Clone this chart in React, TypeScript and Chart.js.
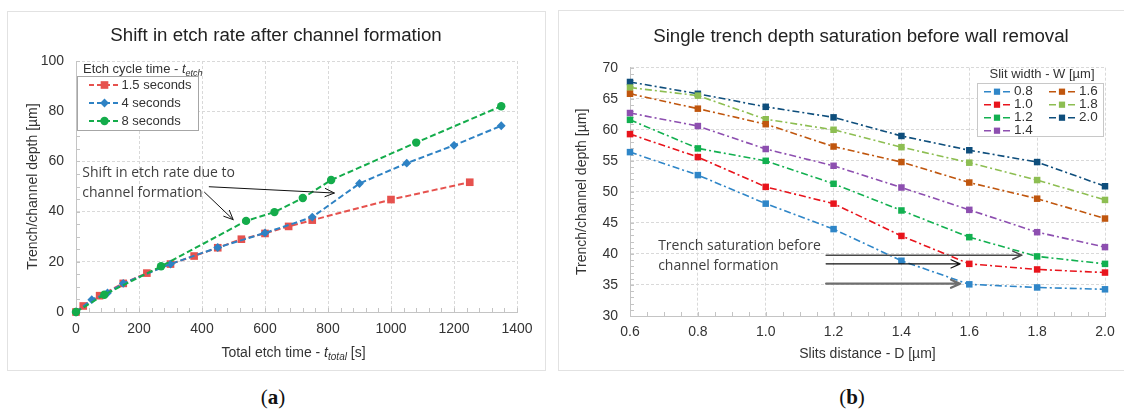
import React, { useEffect, useRef } from "react";
import { Chart, registerables } from "chart.js";

Chart.register(...registerables);

const SANS = "'Liberation Sans', Arial, sans-serif";
const NOTE = "'Open Sans', 'Noto Sans', sans-serif";
const SERIF = "'Liberation Serif', 'DejaVu Serif', serif";

// ---------------- Panel (a) data ----------------
const etchTime15 = [0, 23, 75, 150, 225, 300, 375, 450, 525, 600, 675, 750, 1000, 1250];
const depth15 = [0, 2.4, 6.5, 11.4, 15.5, 19.1, 22.3, 25.6, 29.0, 31.3, 34.1, 36.6, 44.8, 51.7];
const etchTime4 = [0, 50, 100, 150, 300, 450, 600, 750, 900, 1050, 1200, 1350];
const depth4 = [0, 4.9, 7.6, 11.4, 19.1, 25.7, 31.5, 37.8, 51.2, 59.3, 66.4, 74.2];
const etchTime8 = [0, 90, 270, 540, 630, 720, 810, 1080, 1350];
const depth8 = [0, 6.9, 18.2, 36.3, 39.8, 45.4, 52.6, 67.5, 82.0];
const seriesLabelsA = ["1.5 seconds", "4 seconds", "8 seconds"];
const xTicksA = [0, 200, 400, 600, 800, 1000, 1200, 1400];
const yTicksA = [0, 20, 40, 60, 80, 100];

// annotation anchors for panel (a), in data units
const noteTextA = [
  { x: 20, y: 55.4, t: "Shift in etch rate due to" },
  { x: 20, y: 47.5, t: "channel formation" },
];
const noteArrowA = [
  { x1: 423, y1: 49.9, x2: 820, y2: 47.4, c: "#111", w: 1 },
  { x1: 408, y1: 47.7, x2: 499, y2: 36.8, c: "#111", w: 1 },
];

// ---------------- Panel (b) data ----------------
const slitDistance = [0.6, 0.8, 1.0, 1.2, 1.4, 1.6, 1.8, 2.0];
const depthW08 = [56.4, 52.7, 48.1, 44.0, 38.9, 35.1, 34.6, 34.3];
const depthW10 = [59.3, 55.6, 50.8, 48.1, 42.9, 38.4, 37.5, 37.0];
const depthW12 = [61.6, 57.0, 55.0, 51.3, 47.0, 42.7, 39.6, 38.4];
const depthW14 = [62.7, 60.6, 56.9, 54.2, 50.7, 47.1, 43.5, 41.1];
const depthW16 = [65.8, 63.4, 60.9, 57.3, 54.8, 51.5, 48.9, 45.7];
const depthW18 = [66.8, 65.5, 61.7, 60.0, 57.2, 54.7, 51.9, 48.7];
const depthW20 = [67.7, 65.8, 63.7, 62.0, 59.0, 56.7, 54.8, 50.9];
const slitWidthLabels = ["0.8", "1.0", "1.2", "1.4", "1.6", "1.8", "2.0"];
const xTicksB = [0.6, 0.8, 1.0, 1.2, 1.4, 1.6, 1.8, 2.0];
const yTicksB = [30, 35, 40, 45, 50, 55, 60, 65, 70];

const noteTextB = [
  { x: 0.683, y: 41.3, t: "Trench saturation before" },
  { x: 0.683, y: 38.1, t: "channel formation" },
];
const noteArrowB = [
  { x1: 1.178, y1: 39.8, x2: 1.755, y2: 39.8, c: "#4a4a4a", w: 1.5 },
  { x1: 1.178, y1: 38.4, x2: 1.573, y2: 38.4, c: "#111", w: 1.2 },
  { x1: 1.178, y1: 35.2, x2: 1.573, y2: 35.2, c: "#6e6e6e", w: 2.2 },
];

const TITLE_A = "Shift in etch rate after channel formation";
const TITLE_B = "Single trench depth saturation before wall removal";

// ---------------- styles ----------------
const GRID = "#d9d9d9";
const AXIS = "#c4c4c4";
const TICK = "#333333";
const TITLE = "#222222";
const COLORS_A = ["#E6524E", "#2E82C4", "#14AC4B"];
const STYLES_A = ["rect", "rectRot", "circle"];
const RADII_A = [5.4, 4.4, 4.2];
const COLORS_B = ["#2F86C8", "#E8141C", "#12B050", "#8D4FB0", "#C0560E", "#8DBE52", "#0E4E7C"];

type Seg = { t: string; it?: boolean; sub?: boolean };

function drawRich(ctx: any, segs: Seg[], x: number, y: number, size: number, align: string, color: string) {
  const fontOf = (s: Seg) => `${s.it ? "italic " : ""}${s.sub ? Math.round(size * 0.72) : size}px ${SANS}`;
  let total = 0;
  for (const s of segs) {
    ctx.font = fontOf(s);
    total += ctx.measureText(s.t).width;
  }
  let cx = align === "center" ? x - total / 2 : x;
  ctx.save();
  ctx.fillStyle = color;
  ctx.textAlign = "left";
  ctx.textBaseline = "middle";
  for (const s of segs) {
    ctx.font = fontOf(s);
    ctx.fillText(s.t, cx, s.sub ? y + size * 0.32 : y);
    cx += ctx.measureText(s.t).width;
  }
  ctx.restore();
}

function marker(ctx: any, style: string, x: number, y: number, r: number, color: string) {
  ctx.save();
  ctx.fillStyle = color;
  ctx.beginPath();
  if (style === "circle") ctx.arc(x, y, r, 0, Math.PI * 2);
  else if (style === "rectRot") {
    ctx.moveTo(x, y - r);
    ctx.lineTo(x + r, y);
    ctx.lineTo(x, y + r);
    ctx.lineTo(x - r, y);
    ctx.closePath();
  } else {
    const s = r * Math.SQRT1_2;
    ctx.rect(x - s, y - s, 2 * s, 2 * s);
  }
  ctx.fill();
  ctx.restore();
}

function arrow(ctx: any, x1: number, y1: number, x2: number, y2: number, color: string, width: number) {
  const ang = Math.atan2(y2 - y1, x2 - x1);
  const h = 10;
  const sp = 0.42;
  ctx.save();
  ctx.strokeStyle = color;
  ctx.lineWidth = width;
  ctx.lineCap = "round";
  ctx.lineJoin = "round";
  ctx.setLineDash([]);
  ctx.beginPath();
  ctx.moveTo(x1, y1);
  ctx.lineTo(x2, y2);
  ctx.moveTo(x2 - h * Math.cos(ang - sp), y2 - h * Math.sin(ang - sp));
  ctx.lineTo(x2, y2);
  ctx.lineTo(x2 - h * Math.cos(ang + sp), y2 - h * Math.sin(ang + sp));
  ctx.stroke();
  ctx.restore();
}

function titlePlugin(text: string, cx: number, cy: number) {
  return {
    id: "panelTitle",
    afterDraw(chart: any) {
      const { ctx } = chart;
      ctx.save();
      ctx.fillStyle = TITLE;
      ctx.font = `18.7px ${SANS}`;
      ctx.textAlign = "center";
      ctx.textBaseline = "middle";
      ctx.fillText(text, cx, cy);
      ctx.restore();
    },
  };
}

function minorTicksPlugin(stepX: number, stepY: number) {
  return {
    id: "minorTicks",
    beforeDatasetsDraw(chart: any) {
      const { ctx, chartArea: a, scales } = chart;
      const xs = scales.x;
      const ys = scales.y;
      const len = 4;
      ctx.save();
      ctx.strokeStyle = AXIS;
      ctx.lineWidth = 1;
      ctx.beginPath();
      const nx = Math.round((xs.max - xs.min) / stepX);
      for (let i = 0; i <= nx; i++) {
        const px = Math.round(xs.getPixelForValue(xs.min + i * stepX)) + 0.5;
        ctx.moveTo(px, a.bottom);
        ctx.lineTo(px, a.bottom - len);
      }
      const ny = Math.round((ys.max - ys.min) / stepY);
      for (let i = 0; i <= ny; i++) {
        const py = Math.round(ys.getPixelForValue(ys.min + i * stepY)) + 0.5;
        ctx.moveTo(a.left, py);
        ctx.lineTo(a.left + len, py);
      }
      ctx.stroke();
      ctx.restore();
    },
  };
}

function notesPlugin(texts: any[], arrows: any[]) {
  return {
    id: "notes",
    afterDatasetsDraw(chart: any) {
      const { ctx, scales } = chart;
      const xs = scales.x;
      const ys = scales.y;
      ctx.save();
      ctx.fillStyle = "#404040";
      ctx.font = `14px ${NOTE}`;
      ctx.textAlign = "left";
      ctx.textBaseline = "middle";
      for (const t of texts) ctx.fillText(t.t, xs.getPixelForValue(t.x), ys.getPixelForValue(t.y));
      ctx.restore();
      for (const ar of arrows) {
        arrow(ctx, xs.getPixelForValue(ar.x1), ys.getPixelForValue(ar.y1), xs.getPixelForValue(ar.x2), ys.getPixelForValue(ar.y2), ar.c, ar.w);
      }
    },
  };
}

const legendAPlugin = {
  id: "legendA",
  afterDatasetsDraw(chart: any) {
    const { ctx, chartArea: a } = chart;
    const bx = a.left + 1;
    const by = a.top + 15;
    const bw = 121;
    const bh = 54;
    ctx.save();
    ctx.fillStyle = "#fff";
    ctx.fillRect(a.left + 1, a.top + 1, bw, by + bh - a.top - 1);
    ctx.strokeStyle = "#a6a6a6";
    ctx.lineWidth = 1;
    ctx.strokeRect(Math.round(bx) + 0.5, Math.round(by) + 0.5, bw, bh);
    ctx.restore();
    drawRich(ctx, [{ t: "Etch cycle time - " }, { t: "t", it: true }, { t: "etch", it: true, sub: true }], bx + 6, a.top + 8.5, 13, "left", TICK);
    chart.data.datasets.forEach((ds: any, i: number) => {
      const y = by + 9 + i * 18;
      ctx.save();
      ctx.strokeStyle = ds.borderColor;
      ctx.lineWidth = 2;
      ctx.setLineDash([5, 3]);
      ctx.beginPath();
      ctx.moveTo(bx + 12, y);
      ctx.lineTo(bx + 43, y);
      ctx.stroke();
      ctx.restore();
      marker(ctx, STYLES_A[i], bx + 27.5, y, RADII_A[i], ds.borderColor);
      ctx.save();
      ctx.fillStyle = TICK;
      ctx.font = `13px ${SANS}`;
      ctx.textAlign = "left";
      ctx.textBaseline = "middle";
      ctx.fillText(ds.label, bx + 44.5, y);
      ctx.restore();
    });
  },
};

const xTitleAPlugin = {
  id: "xTitleA",
  afterDraw(chart: any) {
    const { ctx, chartArea: a, scales } = chart;
    drawRich(
      ctx,
      [{ t: "Total etch time - " }, { t: "t", it: true }, { t: "total", it: true, sub: true }, { t: " [s]" }],
      (a.left + a.right) / 2 - 3,
      scales.x.bottom - 17,
      14,
      "center",
      TICK
    );
  },
};

const legendBPlugin = {
  id: "legendB",
  afterDatasetsDraw(chart: any) {
    const { ctx, chartArea: a } = chart;
    const bw = 126;
    const bh = 53;
    const bx = a.right - 2 - bw;
    const by = a.top + 15.3;
    ctx.save();
    ctx.fillStyle = "#fff";
    ctx.fillRect(bx, a.top + 1, bw + 1, by + bh - a.top - 1);
    ctx.strokeStyle = "#c8c8c8";
    ctx.lineWidth = 1;
    ctx.strokeRect(Math.round(bx) + 0.5, Math.round(by) + 0.5, bw, bh);
    ctx.fillStyle = TICK;
    ctx.font = `13px ${SANS}`;
    ctx.textAlign = "center";
    ctx.textBaseline = "middle";
    ctx.fillText("Slit width - W [\u00b5m]", bx + bw / 2 + 2, a.top + 6.5);
    ctx.restore();
    chart.data.datasets.forEach((ds: any, i: number) => {
      const col = i < 4 ? 0 : 1;
      const row = i < 4 ? i : i - 4;
      const y = by + 8.7 + row * 13;
      const ox = bx + (col === 0 ? 7 : 72);
      ctx.save();
      ctx.strokeStyle = ds.borderColor;
      ctx.lineWidth = 1.6;
      ctx.beginPath();
      ctx.moveTo(ox, y);
      ctx.lineTo(ox + 7, y);
      ctx.moveTo(ox + 19, y);
      ctx.lineTo(ox + 26, y);
      ctx.stroke();
      ctx.restore();
      marker(ctx, "rect", ox + 13, y, 4.4, ds.borderColor);
      ctx.save();
      ctx.fillStyle = TICK;
      ctx.font = `13.5px ${SANS}`;
      ctx.textAlign = "left";
      ctx.textBaseline = "middle";
      ctx.fillText(ds.label, ox + 30, y);
      ctx.restore();
    });
  },
};

function makeConfigA(): any {
  const sets = [
    [etchTime15, depth15],
    [etchTime4, depth4],
    [etchTime8, depth8],
  ];
  return {
    type: "line",
    data: {
      datasets: sets.map(([xs, ys], i) => ({
        label: seriesLabelsA[i],
        data: xs.map((x, j) => ({ x, y: ys[j] })),
        borderColor: COLORS_A[i],
        backgroundColor: COLORS_A[i],
        pointBackgroundColor: COLORS_A[i],
        pointBorderColor: COLORS_A[i],
        pointBorderWidth: 0,
        pointStyle: STYLES_A[i],
        pointRadius: RADII_A[i],
        borderWidth: 2,
        borderDash: [6, 3],
        tension: 0,
        clip: false,
        order: 2 - i,
      })),
    },
    options: {
      responsive: false,
      animation: false,
      events: [],
      layout: { padding: { left: 0, right: 27, top: 49, bottom: 0 } },
      plugins: {
        legend: { display: false },
        tooltip: { enabled: false },
        title: { display: false },
      },
      scales: {
        x: {
          type: "linear",
          min: 0,
          max: 1400,
          afterBuildTicks: (s: any) => {
            s.ticks = xTicksA.map((v) => ({ value: v }));
          },
          afterFit: (s: any) => {
            s.height = 58;
          },
          ticks: { color: TICK, font: { size: 14, family: SANS }, padding: 9, maxRotation: 0, autoSkip: false, callback: (v: any) => String(v) },
          grid: { color: GRID, drawTicks: false },
          border: { color: AXIS, dash: [3, 2] },
        },
        y: {
          type: "linear",
          min: 0,
          max: 100,
          afterBuildTicks: (s: any) => {
            s.ticks = yTicksA.map((v) => ({ value: v }));
          },
          afterFit: (s: any) => {
            s.width = 68;
          },
          ticks: { color: TICK, font: { size: 14, family: SANS }, padding: 12, autoSkip: false, callback: (v: any) => String(v) },
          grid: { color: GRID, drawTicks: false },
          border: { color: AXIS, dash: [3, 2] },
          title: {
            display: true,
            text: "Trench/channel depth [\u00b5m]",
            color: TICK,
            font: { size: 14, family: SANS },
            padding: { top: 16.6, bottom: 0 },
          },
        },
      },
    },
    plugins: [minorTicksPlugin(40, 5), notesPlugin(noteTextA, noteArrowA), legendAPlugin, xTitleAPlugin, titlePlugin(TITLE_A, 268, 23.5)],
  };
}

function makeConfigB(): any {
  const series = [depthW08, depthW10, depthW12, depthW14, depthW16, depthW18, depthW20];
  return {
    type: "line",
    data: {
      datasets: series.map((ys, i) => ({
        label: slitWidthLabels[i],
        data: slitDistance.map((x, j) => ({ x, y: ys[j] })),
        borderColor: COLORS_B[i],
        backgroundColor: COLORS_B[i],
        pointBackgroundColor: COLORS_B[i],
        pointBorderColor: COLORS_B[i],
        pointBorderWidth: 0,
        pointStyle: "rect",
        pointRadius: 4.6,
        borderWidth: 1.6,
        borderDash: [7, 3, 2, 3],
        tension: 0,
        clip: false,
      })),
    },
    options: {
      responsive: false,
      animation: false,
      events: [],
      layout: { padding: { left: 0, right: 19, top: 55.7, bottom: 0 } },
      plugins: {
        legend: { display: false },
        tooltip: { enabled: false },
        title: { display: false },
      },
      scales: {
        x: {
          type: "linear",
          min: 0.6,
          max: 2.0,
          afterBuildTicks: (s: any) => {
            s.ticks = xTicksB.map((v) => ({ value: v }));
          },
          afterFit: (s: any) => {
            s.height = 54;
          },
          ticks: { color: TICK, font: { size: 14, family: SANS }, padding: 8, maxRotation: 0, autoSkip: false, callback: (v: any) => Number(v).toFixed(1) },
          grid: { color: GRID, drawTicks: false },
          border: { color: AXIS, dash: [3, 2] },
          title: {
            display: true,
            text: "Slits distance - D [\u00b5m]",
            color: TICK,
            font: { size: 14, family: SANS },
            padding: { top: 0, bottom: 7.6 },
          },
        },
        y: {
          type: "linear",
          min: 30,
          max: 70,
          afterBuildTicks: (s: any) => {
            s.ticks = yTicksB.map((v) => ({ value: v }));
          },
          afterFit: (s: any) => {
            s.width = 71;
          },
          ticks: { color: TICK, font: { size: 14, family: SANS }, padding: 12, autoSkip: false, callback: (v: any) => String(v) },
          grid: { color: GRID, drawTicks: false },
          border: { color: AXIS, dash: [3, 2] },
          title: {
            display: true,
            text: "Trench/channel depth [\u00b5m]",
            color: TICK,
            font: { size: 14, family: SANS },
            padding: { top: 14.3, bottom: 0 },
          },
        },
      },
    },
    plugins: [minorTicksPlugin(0.05, 1), notesPlugin(noteTextB, noteArrowB), legendBPlugin, titlePlugin(TITLE_B, 302, 25)],
  };
}

function ChartBox({ make, width, height }: { make: () => any; width: number; height: number }) {
  const ref = useRef<HTMLCanvasElement>(null);
  useEffect(() => {
    const chart = new Chart(ref.current as HTMLCanvasElement, make());
    return () => chart.destroy();
  }, []);
  return <canvas ref={ref} width={width} height={height} style={{ width, height, display: "block" }} />;
}

function Caption({ letter, cx }: { letter: string; cx: number }) {
  return (
    <div
      style={{
        position: "absolute",
        left: cx - 40,
        width: 80,
        top: 384,
        textAlign: "center",
        fontFamily: SERIF,
        fontSize: 21,
        lineHeight: "26px",
        color: "#111",
      }}
    >
      (<b>{letter}</b>)
    </div>
  );
}

export default function App() {
  return (
    <div style={{ position: "fixed", left: 0, top: 0, width: 1124, height: 410, background: "#fff", overflow: "hidden" }}>
      <div style={{ position: "absolute", left: 7, top: 11, width: 537, height: 358, border: "1px solid #e2e2e2" }} />
      <div style={{ position: "absolute", left: 558, top: 10, width: 620, height: 359, border: "1px solid #e2e2e2" }} />
      <div style={{ position: "absolute", left: 8, top: 12 }}>
        <ChartBox make={makeConfigA} width={536} height={358} />
      </div>
      <div style={{ position: "absolute", left: 559, top: 12 }}>
        <ChartBox make={makeConfigB} width={565} height={358} />
      </div>
      <Caption letter="a" cx={273} />
      <Caption letter="b" cx={852} />
    </div>
  );
}
